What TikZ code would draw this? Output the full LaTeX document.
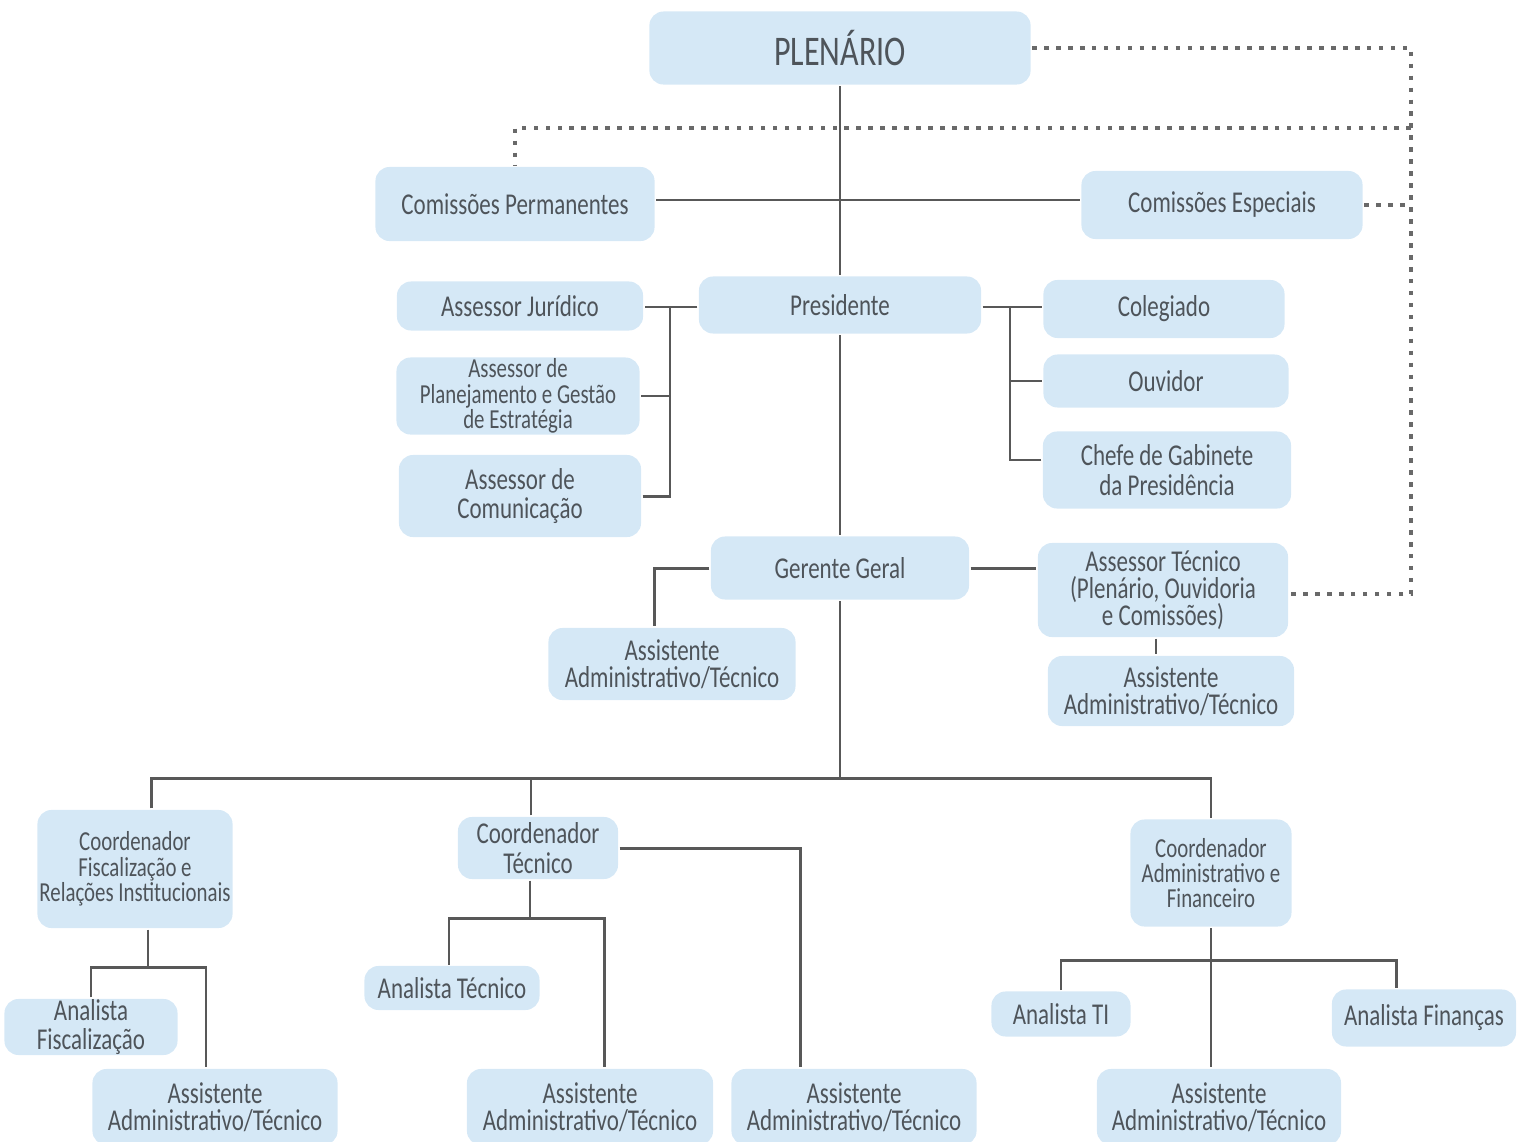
\documentclass[tikz,border=0pt]{standalone}
\usepackage{fontspec}
\setmainfont{Carlito}[FakeStretch=0.76]
\definecolor{azul}{RGB}{213,232,246}
\definecolor{cinza}{RGB}{78,84,90}
\definecolor{linha}{RGB}{88,88,88}
\tikzset{
  bloco/.style={fill=azul, rounded corners=4pt, align=center, inner sep=0pt, text=cinza,
    font=\fontsize{8.6}{7.7}\selectfont},
  miudo/.style={font=\fontsize{7.8}{7.2}\selectfont},
  graudo/.style={font=\fontsize{8.6}{8.4}\selectfont},
  pont/.style={line width=0.9pt, linha!90, dash pattern=on 1.3pt off 2.1pt},
}
\begin{document}
\begin{tikzpicture}[x=0.01cm, y=-0.01cm, line width=0.85pt, color=linha]
\useasboundingbox (0,0) rectangle (1532,1142);
% topo
\node[bloco, minimum width=3.81cm, minimum height=.73cm, font=\fontsize{12}{12}\selectfont] (plen) at (840,48) {PLENÁRIO};
\node[bloco, minimum width=2.79cm, minimum height=.74cm] (cperm) at (515,204) {Comissões Permanentes};
\node[bloco, minimum width=2.81cm, minimum height=.68cm] (cesp) at (1222,205) {Comissões Especiais};
% presidencia
\node[bloco, minimum width=2.82cm, minimum height=.57cm] (pres) at (840,305) {Presidente};
\node[bloco, minimum width=2.46cm, minimum height=.49cm] (jur) at (520,306) {Assessor Jurídico};
\node[bloco, miudo, minimum width=2.43cm, minimum height=.77cm] (plan) at (518,396) {Assessor de\\Planejamento e Gestão\\de Estratégia};
\node[bloco, graudo, minimum width=2.42cm, minimum height=.82cm] (comu) at (520,496) {Assessor de\\Comunicação};
\node[bloco, minimum width=2.41cm, minimum height=.58cm] (coleg) at (1164,309) {Colegiado};
\node[bloco, minimum width=2.45cm, minimum height=.53cm] (ouv) at (1166,381) {Ouvidor};
\node[bloco, graudo, minimum width=2.48cm, minimum height=.77cm] (chefe) at (1167,470) {Chefe de Gabinete\\da Presidência};
% gerencia
\node[bloco, minimum width=2.58cm, minimum height=.63cm] (ger) at (840,568) {Gerente Geral};
\node[bloco, minimum width=2.50cm, minimum height=.94cm] (atec) at (1163,590) {Assessor Técnico\\(Plenário, Ouvidoria\\e Comissões)};
\node[bloco, minimum width=2.47cm, minimum height=.72cm] (asger) at (672,664) {Assistente\\Administrativo/Técnico};
\node[bloco, minimum width=2.46cm, minimum height=.70cm] (asat) at (1171,691) {Assistente\\Administrativo/Técnico};
% coordenadores
\node[bloco, miudo, minimum width=1.95cm, minimum height=1.18cm] (cfis) at (135,869) {Coordenador\\Fiscalização e\\Relações Institucionais};
\node[bloco, graudo, minimum width=1.60cm, minimum height=.62cm] (ctec) at (538,848) {Coordenador\\Técnico};
\node[bloco, miudo, minimum width=1.61cm, minimum height=1.07cm] (cadm) at (1211,873) {Coordenador\\Administrativo e\\Financeiro};
\node[bloco, graudo, minimum width=1.73cm, minimum height=.56cm] (afis) at (91,1027) {Analista\\Fiscalização};
\node[bloco, minimum width=2.45cm, minimum height=.76cm] (asfis) at (215,1107) {Assistente\\Administrativo/Técnico};
\node[bloco, minimum width=1.75cm, minimum height=.44cm] (anat) at (452,988) {Analista Técnico};
\node[bloco, minimum width=2.46cm, minimum height=.76cm] (astec1) at (590,1107) {Assistente\\Administrativo/Técnico};
\node[bloco, minimum width=2.45cm, minimum height=.76cm] (astec2) at (854,1107) {Assistente\\Administrativo/Técnico};
\node[bloco, minimum width=1.39cm, minimum height=.45cm] (ati) at (1061,1014) {Analista TI};
\node[bloco, minimum width=1.84cm, minimum height=.57cm] (afin) at (1424,1018) {Analista Finanças};
\node[bloco, minimum width=2.44cm, minimum height=.76cm] (asadm) at (1219,1107) {Assistente\\Administrativo/Técnico};
% ligacoes
\coordinate (bl) at (670,307);
\coordinate (br) at (1010,307);
\coordinate (bus) at (838,778);
\coordinate (dR) at (1411,594);
\draw (plen.south) -- (pres.north);
\draw ([yshift=.04cm]cperm.east) -- ([yshift=.04cm]cperm.east -| cesp.west);
\draw (pres.south) -- (ger.north);
\draw (ger.south) -- (ger.south |- bus);
\draw (pres.west |- bl) -- (jur.east |- bl);
\draw (plan.east) -| (bl);
\draw (comu.east) -| (bl);
\draw (pres.east |- br) -- (coleg.west |- br);
\draw (ouv.west) -| (br);
\draw ([yshift=.1cm]chefe.west) -| (br);
\draw (ger.west) -| ([xshift=-.17cm]asger.north);
\draw (ger.east) -- (ger.east -| atec.west);
\draw ([xshift=-.07cm]atec.south) -- ([xshift=-.07cm]atec.south |- asat.north);
\draw ([xshift=.16cm]cfis.north) |- (bus) -| (cadm.north);
\draw ([xshift=-.07cm]ctec.north) -- ([xshift=-.07cm]ctec.north |- bus);
% fiscalizacao
\coordinate (jf) at (148,967);
\draw (cfis.south -| jf) -- (jf);
\draw (afis.north) |- (jf) -| ([xshift=-.09cm]asfis.north);
% tecnico
\coordinate (jt) at (530,918);
\draw (ctec.south -| jt) -- (jt);
\draw ([xshift=-.03cm]anat.north) |- (jt) -| ([xshift=.14cm]astec1.north);
\draw (ctec.east) -| ([xshift=-.53cm]astec2.north);
% administrativo
\draw (cadm.south) -- (cadm.south |- asadm.north);
\draw (ati.north) |- (cadm.south |- 0,960) -| ([xshift=-.27cm]afin.north);
% pontilhados
\draw[pont] (plen.east) -| (dR) -- (dR -| atec.east);
\draw[pont] (cesp.east) -- (cesp.east -| dR);
\draw[pont] (dR |- 0,128) -| (cperm.north);
\end{tikzpicture}
\end{document}
